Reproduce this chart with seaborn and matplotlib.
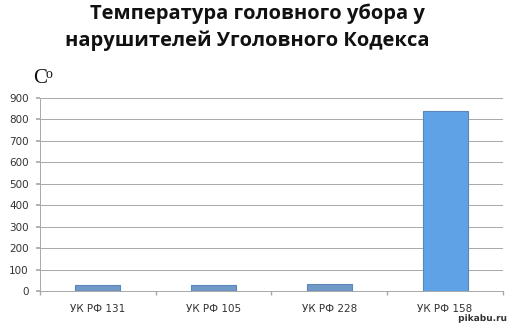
import matplotlib
matplotlib.use("Agg")
import matplotlib.pyplot as plt
import matplotlib.patheffects as pe
import seaborn as sns
import pandas as pd

categories = ["УК РФ 131", "УК РФ 105", "УК РФ 228", "УК РФ 158"]
values = [28, 28, 33, 838]
bar_colors = ["#7099c8", "#7099c8", "#7099c8", "#5fa3e6"]
yticks = [0, 100, 200, 300, 400, 500, 600, 700, 800, 900]

sns.set_theme(style="white")
plt.rcParams['font.family'] = ['DejaVu Sans']

df = pd.DataFrame({"cat": categories, "val": values})

fig = plt.figure(figsize=(5.10, 3.23), dpi=100)
ax = fig.add_axes([40/510, 1-291/323, 463/510, 193/323])

sns.barplot(data=df, x="cat", y="val", hue="cat", palette=bar_colors,
            legend=False, width=0.39, ax=ax, edgecolor="#5a86b8", linewidth=0.8,
            saturation=1)

ax.set_ylim(0, 900)
ax.set_xlim(-0.5, 3.5)
ax.set_yticks(yticks)
ax.set_yticklabels([str(v) for v in yticks], fontsize=7.5, color="#333333")
ax.set_xticks(range(len(categories)))
ax.set_xticklabels(categories, fontsize=7.5, color="#333333")
ax.set_xlabel("")
ax.set_ylabel("")
ax.yaxis.grid(True, color="#a8a8a8", linewidth=0.7)
ax.set_axisbelow(True)
for s in ["top", "right"]:
    ax.spines[s].set_visible(False)
ax.spines["left"].set_color("#a8a8a8")
ax.spines["bottom"].set_color("#a8a8a8")
ax.spines["left"].set_linewidth(0.7)
ax.spines["bottom"].set_linewidth(0.7)
ax.tick_params(axis="y", length=3, color="#a8a8a8", pad=5, left=True)
ax.tick_params(axis="x", length=0, pad=9)
ax.set_xticks([-0.5, 0.5, 1.5, 2.5, 3.5], minor=True)
ax.tick_params(axis="x", which="minor", length=3, color="#a8a8a8", bottom=True)

title_kw = dict(ha="center", va="center", fontsize=14.5, fontweight="bold",
                family="Open Sans", color="#111111")
fig.text(0.505, 1-14/323, "Температура головного убора у", **title_kw)
fig.text(0.485, 1-41/323, "нарушителей Уголовного Кодекса", **title_kw)
fig.text(33/510, 1-79/323, "C", ha="left", va="center", fontsize=15,
         family="Liberation Serif", color="#111111")
fig.text(46/510, 1-74/323, "o", ha="left", va="center", fontsize=10,
         family="Liberation Serif", color="#111111")

fig.text(507/510, 1-318.5/323, "pikabu.ru", ha="right", va="center", fontsize=6.5,
         fontweight="bold", color="#333333",
         path_effects=[pe.withStroke(linewidth=2, foreground="white")])

fig.savefig("out.png", dpi=100, facecolor="white")
